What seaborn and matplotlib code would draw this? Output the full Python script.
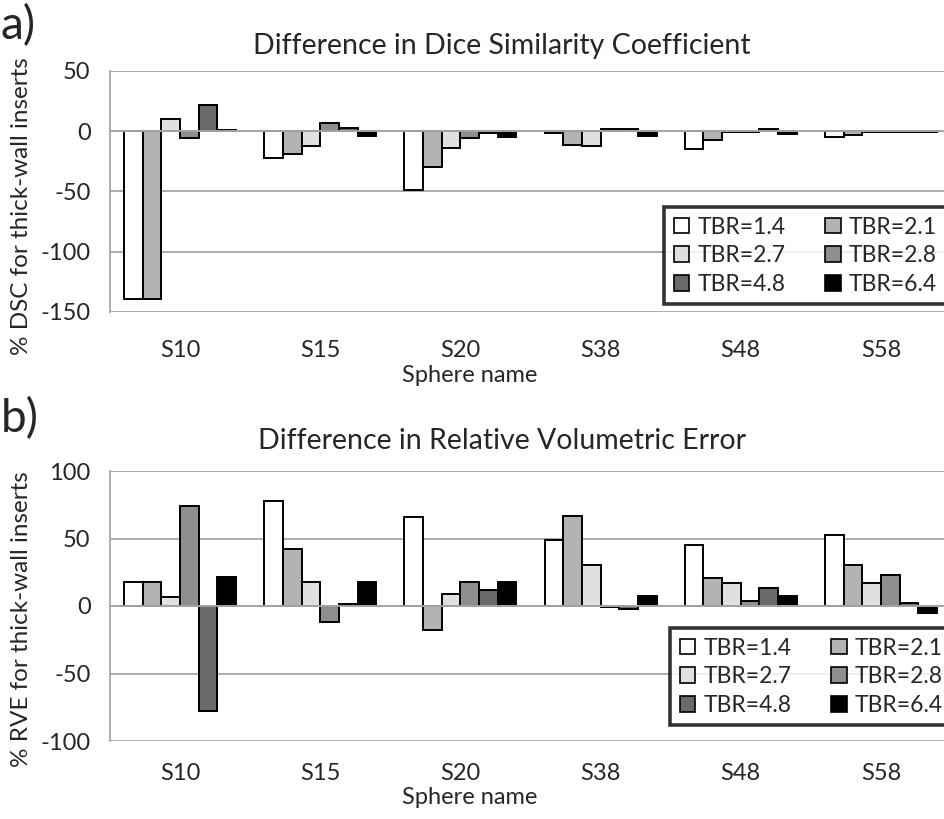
import numpy as np
import pandas as pd
import seaborn as sns
import matplotlib
matplotlib.use("Agg")
import matplotlib.pyplot as plt
from matplotlib.patches import Patch
from matplotlib.transforms import blended_transform_factory

# ---------------- data ----------------
spheres = ["S10", "S15", "S20", "S38", "S48", "S58"]
tbr_labels = ["TBR=1.4", "TBR=2.1", "TBR=2.7", "TBR=2.8", "TBR=4.8", "TBR=6.4"]

dsc_tbr14 = [-139, -22, -49, -1.5, -15, -5]
dsc_tbr21 = [-139, -19, -30, -11, -7, -3]
dsc_tbr27 = [10, -12.5, -13.5, -12.5, -1, -1]
dsc_tbr28 = [-5.5, 7, -5.5, 1.5, -1, -1]
dsc_tbr48 = [22, 3, -1.5, 1.5, 1.5, -1]
dsc_tbr64 = [1, -4, -5, -4, -2.5, -0.5]

rve_tbr14 = [18, 78, 66, 49, 45, 52.5]
rve_tbr21 = [18, 42, -18, 67, 21, 30.5]
rve_tbr27 = [6.3, 18, 8.7, 30.5, 17, 17]
rve_tbr28 = [74.4, -12, 18, -1, 3.5, 23]
rve_tbr48 = [-78, 1.3, 12, -2.5, 13.7, 2.4]
rve_tbr64 = [21.6, 18, 18, 7.3, 7.3, -5.5]

colors = ["#ffffff", "#b3b3b3", "#e0e0e0", "#8e8e8e", "#6a6a6a", "#000000"]


def long_frame(series):
    rows = []
    for lab, vals in zip(tbr_labels, series):
        for s, v in zip(spheres, vals):
            rows.append({"Sphere": s, "TBR": lab, "value": v})
    return pd.DataFrame(rows)


df_a = long_frame([dsc_tbr14, dsc_tbr21, dsc_tbr27, dsc_tbr28, dsc_tbr48, dsc_tbr64])
df_b = long_frame([rve_tbr14, rve_tbr21, rve_tbr27, rve_tbr28, rve_tbr48, rve_tbr64])

# ---------------- style ----------------
sns.set_style("white")
plt.rcParams["font.family"] = ["Lato", "DejaVu Sans"]
GRID = "#a6a6a6"

W, H = 944, 819
fig = plt.figure(figsize=(W / 100, H / 100), dpi=100)


def fx(px):
    return px / W


def fy(py):
    return 1 - py / H


def panel(df, top_px, bot_px, ylim, yticks, ylabel, ylabel_y, title, title_y,
          letter, letter_y, ticklab_y, xlabel_y, legend_box):
    left_px, right_px = 110, 951
    ax = fig.add_axes([fx(left_px), fy(bot_px), (right_px - left_px) / W,
                       (bot_px - top_px) / H])
    sns.barplot(data=df, x="Sphere", y="value", hue="TBR", order=spheres,
                hue_order=tbr_labels, palette=colors, edgecolor="black",
                linewidth=1.4, errorbar=None, width=0.8, dodge=True,
                legend=False, ax=ax, saturation=1)
    ax.set_xlim(-0.5, len(spheres) - 0.5)
    ax.set_ylim(*ylim)
    ax.set_yticks(yticks)
    ax.set_yticklabels([str(t) for t in yticks], fontsize=17)
    ax.yaxis.grid(True, color=GRID, linewidth=1.3)
    ax.set_axisbelow(True)
    ax.tick_params(axis="y", length=8, width=1.2, color=GRID, pad=6)
    for s in ["top", "right"]:
        ax.spines[s].set_visible(False)
    ax.spines["left"].set_color(GRID)
    ax.spines["left"].set_linewidth(1.3)
    ax.spines["bottom"].set_position(("data", 0))
    ax.spines["bottom"].set_color(GRID)
    ax.spines["bottom"].set_linewidth(1.4)
    ax.spines["bottom"].set_zorder(3)
    ax.set_xticks(np.arange(len(spheres)))
    ax.set_xticks(np.arange(0.5, len(spheres) - 1), minor=True)
    ax.tick_params(axis="x", which="major", length=0, labelbottom=False)
    ax.tick_params(axis="x", which="minor", length=8, width=1.2, color=GRID,
                   direction="out")
    ax.set_xlabel("")
    ax.set_ylabel("")

    # category labels along the bottom of the plot area
    trans = blended_transform_factory(ax.transData, fig.transFigure)
    for i, s in enumerate(spheres):
        ax.text(i, fy(ticklab_y), s, transform=trans, ha="center",
                va="center", fontsize=17)
    fig.text(fx(470), fy(xlabel_y), "Sphere name", ha="center", va="center",
             fontsize=17)
    fig.text(fx(22), fy(ylabel_y), ylabel, rotation=90, ha="center",
             va="center", fontsize=17.5)
    fig.text(fx(502), fy(title_y), title, ha="center", va="center",
             fontsize=20.5)
    fig.text(fx(1), fy(letter_y), letter, ha="left", va="center", fontsize=33)

    # legend (row-major order like the reference)
    handles = [Patch(facecolor=c, edgecolor="black", linewidth=1.2)
               for c in colors]
    order = [0, 2, 4, 1, 3, 5]
    lx0, ly0 = legend_box
    leg = fig.legend([handles[i] for i in order], [tbr_labels[i] for i in order],
                     ncol=2, loc="upper left",
                     bbox_to_anchor=(fx(lx0), fy(ly0)),
                     bbox_transform=fig.transFigure, fontsize=16.5,
                     frameon=True, fancybox=False, borderpad=0.42,
                     handlelength=0.68, handleheight=0.68, handletextpad=0.35,
                     columnspacing=1.75, labelspacing=0.33, borderaxespad=0)
    leg.get_frame().set_edgecolor("black")
    leg.get_frame().set_linewidth(2.6)
    return ax


panel(df_a, 71, 312, (-150, 50), [-150, -100, -50, 0, 50],
      "% DSC for thick-wall inserts", 206,
      "Difference in Dice Similarity Coefficient", 46, "a)", 26, 350, 376,
      (664, 207))
panel(df_b, 471, 741, (-100, 100), [-100, -50, 0, 50, 100],
      "% RVE for thick-wall inserts", 619,
      "Difference in Relative Volumetric Error", 441, "b)", 419, 773, 797,
      (670, 628))

fig.savefig("out.png", dpi=100)
